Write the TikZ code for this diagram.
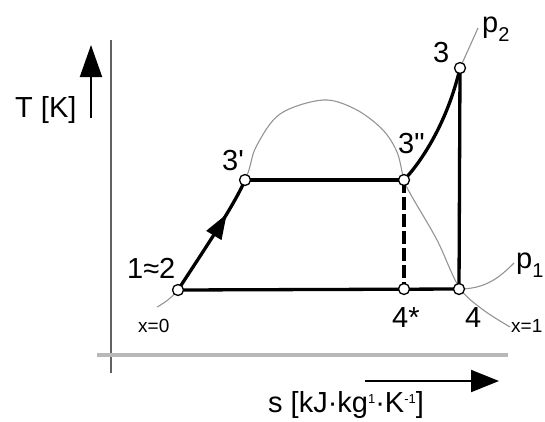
\documentclass[tikz,border=0pt]{standalone}
\usepackage{fontspec}
\setmainfont{Liberation Sans}
\usetikzlibrary{arrows.meta,decorations.markings}
\newcommand{\supsm}[1]{\raisebox{9pt}{\fontsize{13}{13}\selectfont #1}}
\newcommand{\subsm}[1]{\raisebox{-9pt}{\fontsize{20}{20}\selectfont #1}}
\begin{document}
\begin{tikzpicture}[x=1pt,y=-1pt,
  thingray/.style={draw=black!42, line width=1.1pt},
  thickln/.style={draw=black, line width=3.3pt},
  statept/.style={circle, draw=black, fill=white, line width=1.3pt, inner sep=0pt, minimum size=11pt},
  lbl/.style={font=\fontsize{29}{29}\selectfont, inner sep=0pt, anchor=base west},
  smalllbl/.style={font=\fontsize{19}{19}\selectfont, inner sep=0pt, anchor=base west},
  axisarrow/.style={draw=black, line width=2pt}]
\useasboundingbox (0,0) rectangle (545,421);
% axes
\coordinate (ytop) at (111,40);
\coordinate (ybot) at (111,373);
\coordinate (xleft) at (97,355);
\coordinate (xright) at (508,355);
\draw[draw=black!62, line width=1.3pt] (ybot) -- (ytop);
\draw[draw=black!28, line width=3.2pt] (xleft) -- (xright);
% axis arrows
\coordinate (ta) at (91,118);
\coordinate (tb) at (91,45);
\coordinate (sa) at (365,381);
\coordinate (sb) at (499,381);
\draw[axisarrow, -{Triangle[length=32pt,width=22pt]}] (ta) -- (tb);
\draw[axisarrow, -{Triangle[length=28pt,width=22pt]}] (sa) -- (sb);
% state coordinates
\coordinate (c1) at (178,290);
\coordinate (c3p) at (245,180);
\coordinate (c3pp) at (404,180);
\coordinate (c3) at (460,68);
\coordinate (c4s) at (404,289);
\coordinate (c4) at (459,289);
% saturation dome
\draw[thingray] plot[smooth, tension=0.55] coordinates {(157,307) (178,290) (212,237) (245,180) (256,147) (280,114) (323,100) (355,109) (382,129) (397,152) (404,180) (411,195) (437,240) (459,287) (482,309) (510,327)};
% isobars
\coordinate (p2end) at (478,28);
\coordinate (p1end) at (514,263);
\draw[thingray] (c3) -- (p2end);
\draw[thingray] (c4) .. controls (486,289) and (500,277) .. (p1end);
% cycle
\draw[thickln, postaction={decorate}, decoration={markings, mark=at position 0.7 with {\arrow{Triangle[length=25pt,width=17pt]}}}] (c1) .. controls (200,256) and (234,206) .. (c3p);
\draw[thickln] (c3p) -- (c3pp);
\draw[thickln] (c3pp) .. controls (423,160) and (448,120) .. (c3);
\draw[thickln] (c3) -- (c4);
\draw[thickln] (c1) -- (c4);
\draw[thickln, dash pattern=on 13pt off 4pt] (c3pp) -- (c4s);
% state points
\node[statept] (n1) at (c1) {};
\node[statept] (n3p) at (c3p) {};
\node[statept] (n3pp) at (c3pp) {};
\node[statept] (n3) at (c3) {};
\node[statept] (n4s) at (c4s) {};
\node[statept] (n4) at (c4) {};
% labels
\node[lbl] (lT) at (15,117) {T [K]};
\node[lbl] (ls) at (268,412) {s [kJ·kg\supsm{1}·K\supsm{-1}]};
\node[lbl] (l12) at (127,278) {1≈2};
\node[lbl] (l3p) at (222,170) {3\textquotesingle};
\node[lbl] (l3pp) at (398,153) {3\textquotedbl};
\node[lbl] (l3) at (433,62) {3};
\node[lbl] (lp2) at (482,32) {p\subsm{2}};
\node[lbl] (l4s) at (392,327) {4*};
\node[lbl] (l4) at (465,327) {4};
\node[lbl] (lp1) at (516,268) {p\subsm{1}};
\node[smalllbl] (lx0) at (138,332) {x=0};
\node[smalllbl] (lx1) at (511,332) {x=1};
\end{tikzpicture}
\end{document}
